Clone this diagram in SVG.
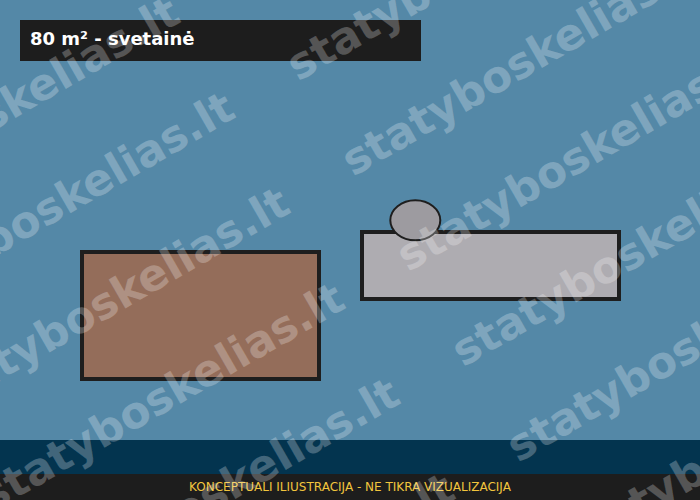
<svg xmlns="http://www.w3.org/2000/svg" xmlns:xlink="http://www.w3.org/1999/xlink" width="700" height="500" viewBox="0 0 700 500">
<style>
.frame{stroke:#1e1e1e;stroke-width:4}
.title{font-family:"DejaVu Sans",sans-serif;font-weight:bold;font-size:18px;fill:#ffffff}
.foot{font-family:"DejaVu Sans",sans-serif;font-size:12px;fill:#f2c53d}
.wm{font-family:"DejaVu Sans",sans-serif;font-weight:bold;font-size:44px;fill:#ffffff;fill-opacity:0.25}
</style>
<defs>
<text id="wmt" class="wm" x="0" y="0">statyboskelias.lt</text>
</defs>
<rect width="700" height="500" fill="#5488a7"/>
<g id="title">
<rect x="20" y="20" width="401" height="41" fill="#1d1d1d"/>
<text class="title" x="30" y="45">80 m² - svetainė</text>
</g>
<g id="sofa">
<rect class="frame" x="82" y="252" width="237" height="127" fill="#946d5a"/>
</g>
<g id="table">
<rect class="frame" x="362" y="232" width="257" height="67" fill="#aeacb1"/>
</g>
<g id="chair">
<ellipse cx="415.3" cy="220.3" rx="25" ry="20" fill="#9d9ba0" stroke="#1e1e1e" stroke-width="2"/>
</g>
<g id="connectors"/>
<g id="footer">
<rect x="0" y="440" width="700" height="34" fill="#03344f"/>
<rect x="0" y="474" width="700" height="26" fill="#1d1d1d"/>
<text class="foot" x="350" y="491" text-anchor="middle">KONCEPTUALI ILIUSTRACIJA - NE TIKRA VIZUALIZACIJA</text>
</g>
<g id="watermark">
<use xlink:href="#wmt" transform="translate(-173.5,226.9) rotate(-30)"/>
<use xlink:href="#wmt" transform="translate(298,81.7) rotate(-30)"/>
<use xlink:href="#wmt" transform="translate(-118.5,322.2) rotate(-30)"/>
<use xlink:href="#wmt" transform="translate(353,177) rotate(-30)"/>
<use xlink:href="#wmt" transform="translate(-63.5,417.5) rotate(-30)"/>
<use xlink:href="#wmt" transform="translate(408,272.3) rotate(-30)"/>
<use xlink:href="#wmt" transform="translate(-8.5,512.8) rotate(-30)"/>
<use xlink:href="#wmt" transform="translate(463,367.6) rotate(-30)"/>
<use xlink:href="#wmt" transform="translate(46.5,608.1) rotate(-30)"/>
<use xlink:href="#wmt" transform="translate(518,462.9) rotate(-30)"/>
<use xlink:href="#wmt" transform="translate(101.5,703.4) rotate(-30)"/>
<use xlink:href="#wmt" transform="translate(573,558.2) rotate(-30)"/>
</g>
</svg>
